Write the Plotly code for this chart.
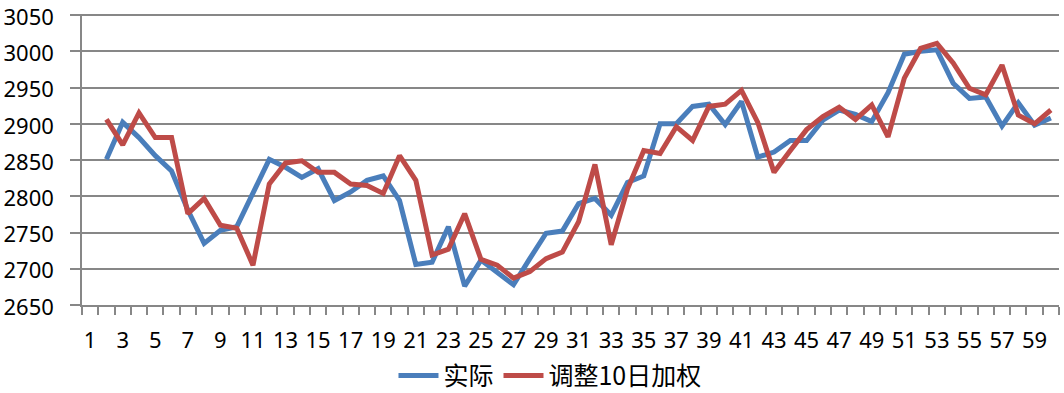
import plotly.graph_objects as go

days = list(range(1, 61))
actual = [None, 2851, 2902, 2881, 2856, 2835, 2781, 2735, 2753, 2758,
          2806, 2851, 2840, 2826, 2838, 2794, 2806, 2822, 2828, 2794,
          2706, 2709, 2758, 2676, 2712, 2696, 2678, 2714, 2749, 2752,
          2790, 2797, 2774, 2819, 2828, 2900, 2900, 2924, 2927, 2899,
          2931, 2854, 2861, 2877, 2877, 2905, 2919, 2913, 2903, 2943,
          2996, 3000, 3002, 2956, 2935, 2937, 2897, 2929, 2898, 2908]
weighted = [None, 2906, 2871, 2915, 2881, 2881, 2776, 2797, 2760, 2756,
            2705, 2817, 2846, 2849, 2833, 2833, 2817, 2815, 2804, 2856,
            2822, 2719, 2727, 2776, 2713, 2705, 2687, 2696, 2714, 2723,
            2765, 2844, 2733, 2810, 2863, 2859, 2896, 2877, 2924, 2927,
            2946, 2902, 2833, 2863, 2892, 2910, 2923, 2906, 2926, 2882,
            2963, 3004, 3011, 2984, 2949, 2940, 2981, 2912, 2900, 2919]
x_ticks = list(range(1, 61, 2))
y_ticks = list(range(2650, 3051, 50))
names = ["实际", "调整10日加权"]

GRID = "#878787"
FONT = "Noto Sans, Noto Sans CJK SC, sans-serif"

fig = go.Figure()
fig.add_trace(go.Scatter(x=days, y=actual, name=names[0], mode="lines",
                         line=dict(color="#4A7EBB", width=5)))
fig.add_trace(go.Scatter(x=days, y=weighted, name=names[1], mode="lines",
                         line=dict(color="#BE4B48", width=5)))

fig.update_layout(
    width=1064, height=393,
    margin=dict(l=82, r=5, t=14, b=88, autoexpand=False),
    paper_bgcolor="white", plot_bgcolor="white",
    font=dict(family=FONT, size=22, color="black"),
    showlegend=True,
    legend=dict(orientation="h", x=0.479, xanchor="center", y=-0.243, yanchor="middle",
                font=dict(family="Noto Sans CJK SC, Noto Sans, sans-serif", size=25),
                itemwidth=40),
)
fig.update_xaxes(
    range=[0.5, 60.5], tickmode="array", tickvals=x_ticks,
    ticktext=[str(v) for v in x_ticks], ticks="", showgrid=False,
    showline=True, linecolor=GRID, linewidth=1.5, zeroline=False,
    ticklabelstandoff=15, automargin=False, ticklabeloverflow="allow",
    minor=dict(tickmode="linear", tick0=0.5, dtick=1, ticks="outside",
               ticklen=8, tickwidth=1.5, tickcolor=GRID, showgrid=False),
)
fig.update_yaxes(
    range=[2650, 3051.5], tickmode="array", tickvals=y_ticks,
    showgrid=True, gridcolor=GRID, gridwidth=1.5,
    showline=True, linecolor=GRID, linewidth=1.5, zeroline=False,
    ticks="outside", ticklen=10, tickwidth=1.5, tickcolor=GRID,
    ticklabelstandoff=12, ticklabelshift=2,
    automargin=False, ticklabeloverflow="allow",
)

fig.write_html("out.html", config={"displayModeBar": False},
               post_script="document.body.style.margin='0';")
